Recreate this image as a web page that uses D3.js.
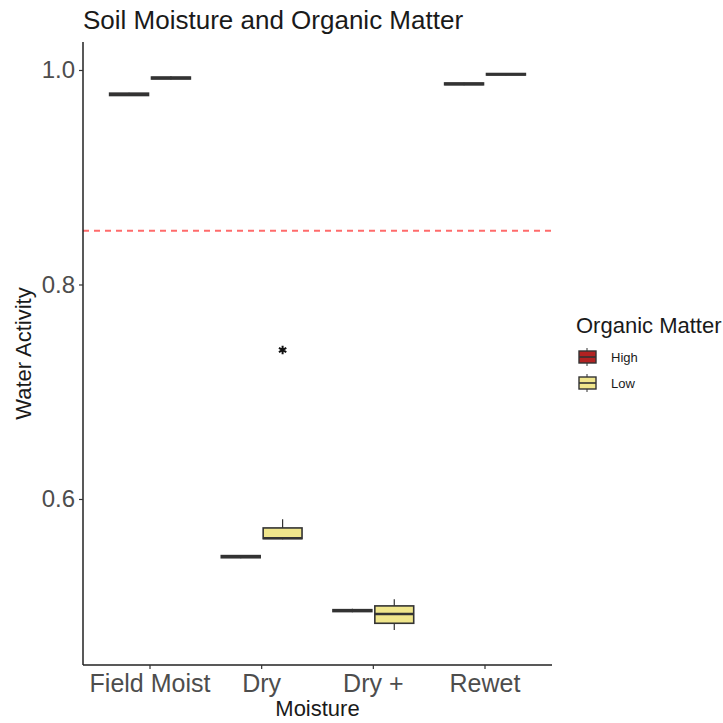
<!DOCTYPE html>
<html>
<head>
  <meta charset="utf-8">
  <title>Soil Moisture and Organic Matter</title>
  <style>
    body { margin: 0; background: #fff; }
    text { font-family: "Liberation Sans", Arial, sans-serif; }
  </style>
</head>
<body>
  <script src="https://d3js.org/d3.v7.min.js"></script>
  <script>
    // categories and groups
    var moisture = ['Field Moist', 'Dry', 'Dry +', 'Rewet'];
    var organic = ['High', 'Low'];
    var yTicks = [0.6, 0.8, 1.0];
    var threshold = 0.85;

    // box stats per moisture level: [lower whisker, q1, median, q3, upper whisker]
    var highStats = [
      [0.9758, 0.9762, 0.9773, 0.9784, 0.9787],
      [0.5448, 0.5452, 0.5462, 0.5472, 0.5476],
      [0.4945, 0.4950, 0.4959, 0.4968, 0.4976],
      [0.9858, 0.9862, 0.9870, 0.9879, 0.9882]
    ];
    var lowStats = [
      [0.9912, 0.9916, 0.9925, 0.9934, 0.9942],
      [0.5625, 0.5630, 0.5635, 0.5730, 0.5810],
      [0.4779, 0.4841, 0.4928, 0.5003, 0.5065],
      [0.9950, 0.9953, 0.9960, 0.9967, 0.9972]
    ];
    // outliers: [moisture, group, value]
    var outliers = [['Dry', 'Low', 0.739]];

    var W = 723, H = 723;
    var plot = { left: 83, right: 552, top: 42, bottom: 665 };

    var svg = d3.select('body').append('svg')
      .attr('width', W).attr('height', H);

    // ggplot-like spacing: 1 unit per category, 0.6 expansion each side
    var x = d3.scaleBand()
      .domain(moisture)
      .range([plot.left, plot.right])
      .paddingInner(0).paddingOuter(0.1);
    var cx = d => x(d) + x.bandwidth() / 2;
    var unit = x.step();

    var y = d3.scaleLinear()
      .domain([0.4452, 1.0261])
      .range([plot.bottom, plot.top]);

    var fill = d3.scaleOrdinal().domain(organic).range(['#b22222', '#f0e68c']);
    var boxW = unit * 0.375 - 3;
    var offset = d => (d === 'High' ? -1 : 1) * unit * 0.1875;

    // reference line
    svg.append('line')
      .attr('x1', plot.left).attr('x2', plot.right)
      .attr('y1', y(threshold)).attr('y2', y(threshold))
      .attr('stroke', '#ff6b6b').attr('stroke-width', 2)
      .attr('stroke-dasharray', '6,5');

    // boxes
    var boxes = [];
    moisture.forEach((m, i) => {
      boxes.push({ m: m, g: 'High', s: highStats[i] });
      boxes.push({ m: m, g: 'Low', s: lowStats[i] });
    });

    var bg = svg.selectAll('g.box').data(boxes).enter().append('g')
      .attr('class', 'box')
      .attr('transform', d => `translate(${cx(d.m) + offset(d.g)},0)`);

    bg.append('line')
      .attr('y1', d => y(d.s[0])).attr('y2', d => y(d.s[4]))
      .attr('stroke', '#333').attr('stroke-width', 1.2);
    bg.append('rect')
      .attr('x', -boxW / 2).attr('width', boxW)
      .attr('y', d => y(d.s[3]))
      .attr('height', d => y(d.s[1]) - y(d.s[3]))
      .attr('fill', d => fill(d.g))
      .attr('stroke', '#333').attr('stroke-width', 1.6);
    bg.append('line')
      .attr('x1', -boxW / 2).attr('x2', boxW / 2)
      .attr('y1', d => y(d.s[2])).attr('y2', d => y(d.s[2]))
      .attr('stroke', '#333').attr('stroke-width', 2.4);

    // outliers
    svg.selectAll('path.out').data(outliers).enter().append('path')
      .attr('class', 'out')
      .attr('transform', d => `translate(${cx(d[0]) + offset(d[1])},${y(d[2])})`)
      .attr('d', d3.symbol().type(d3.symbolAsterisk).size(50))
      .attr('stroke', '#111').attr('stroke-width', 2);

    // axes
    var yAxis = svg.append('g')
      .attr('transform', `translate(${plot.left},0)`)
      .call(d3.axisLeft(y).tickValues(yTicks).tickFormat(d3.format('.1f')).tickSize(4).tickPadding(4));
    yAxis.select('.domain').attr('d', `M0,${plot.top}V${plot.bottom}`).attr('stroke', '#222').attr('stroke-width', 1.5);
    yAxis.selectAll('.tick line').attr('stroke', '#333').attr('stroke-width', 1.2);
    yAxis.selectAll('.tick text').attr('fill', '#4d4d4d').style('font-size', '24px')
      .style('font-family', '"Liberation Sans", Arial, sans-serif');

    var xAxis = svg.append('g')
      .attr('transform', `translate(0,${plot.bottom})`)
      .call(d3.axisBottom(x).tickSize(4).tickPadding(5));
    xAxis.select('.domain').attr('d', `M${plot.left},0H${plot.right}`).attr('stroke', '#222').attr('stroke-width', 1.5);
    xAxis.selectAll('.tick line').attr('stroke', '#333').attr('stroke-width', 1.2);
    xAxis.selectAll('.tick text').attr('fill', '#4d4d4d').style('font-size', '25px')
      .style('font-family', '"Liberation Sans", Arial, sans-serif');

    // titles
    svg.append('text')
      .attr('x', plot.left).attr('y', 29)
      .style('font-size', '26px').attr('fill', '#1a1a1a')
      .text('Soil Moisture and Organic Matter');
    svg.append('text')
      .attr('x', (plot.left + plot.right) / 2).attr('y', 716)
      .attr('text-anchor', 'middle')
      .style('font-size', '22px').attr('fill', '#1a1a1a')
      .text('Moisture');
    svg.append('text')
      .attr('transform', `translate(31,${(plot.top + plot.bottom) / 2}) rotate(-90)`)
      .attr('text-anchor', 'middle')
      .style('font-size', '22px').attr('fill', '#1a1a1a')
      .text('Water Activity');

    // legend
    var lg = svg.append('g').attr('transform', 'translate(576,0)');
    lg.append('text')
      .attr('x', 0).attr('y', 333)
      .style('font-size', '22px').attr('fill', '#1a1a1a')
      .text('Organic Matter');
    var items = lg.selectAll('g.item').data(organic).enter().append('g')
      .attr('class', 'item')
      .attr('transform', (d, i) => `translate(0,${348 + i * 26})`);
    items.append('line')
      .attr('x1', 11).attr('x2', 11).attr('y1', 0).attr('y2', 18)
      .attr('stroke', '#333').attr('stroke-width', 1);
    items.append('rect')
      .attr('x', 3).attr('y', 3).attr('width', 17).attr('height', 12)
      .attr('fill', d => fill(d)).attr('stroke', '#333').attr('stroke-width', 1.4);
    items.append('line')
      .attr('x1', 3).attr('x2', 20).attr('y1', 9).attr('y2', 9)
      .attr('stroke', '#333').attr('stroke-width', 1.6);
    items.append('text')
      .attr('x', 35).attr('y', 14)
      .style('font-size', '13px').attr('fill', '#1a1a1a')
      .text(d => d);
  </script>
</body>
</html>
